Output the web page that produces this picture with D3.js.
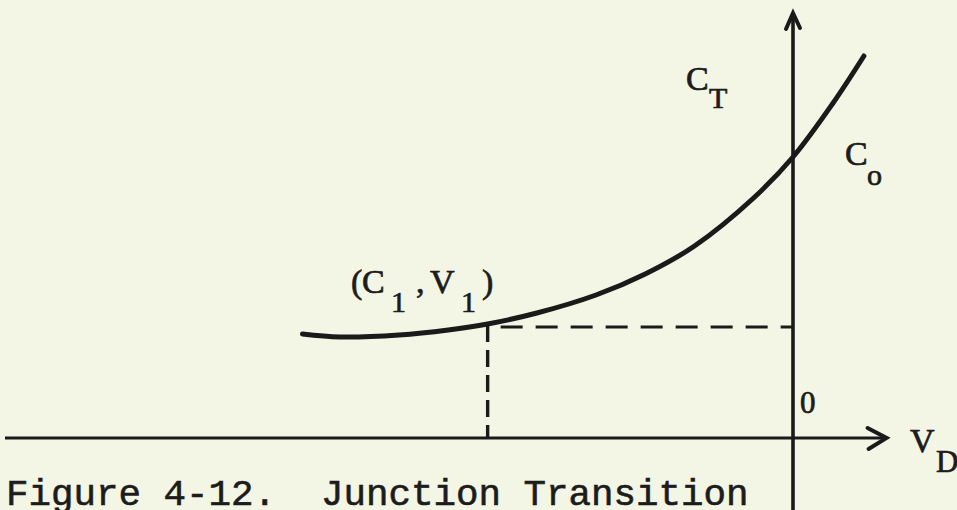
<!DOCTYPE html>
<html>
<head>
<meta charset="utf-8">
<script src="https://cdn.jsdelivr.net/npm/d3@7"></script>
<style>
  html, body { margin: 0; padding: 0; background: #f3f5e5; }
  svg { display: block; }
  text { fill: #1c1c1c; }
  .lbl { font-family: "Liberation Serif", "DejaVu Serif", serif; stroke: #1c1c1c; stroke-width: 0.7; }
  .cap { font-family: "Liberation Mono", "DejaVu Sans Mono", monospace; white-space: pre; stroke: #1c1c1c; stroke-width: 0.6; }
</style>
</head>
<body>
<script>
// Junction transition capacitance C_T versus diode voltage V_D
const volts = [-4.98, -4.6, -4.0, -3.5, -3.1, -2.6, -2.0, -1.5, -1.0, -0.4, 0, 0.4, 0.72];
const caps  = [1.04, 1.01, 1.03, 1.08, 1.14, 1.25, 1.43, 1.64, 1.92, 2.40, 2.81, 3.34, 3.82];
const pointV1 = -3.1;   // V1
const pointC1 = 1.13;   // C1
const axisV = [-8, 0.95];    // extent of the V_D axis
const axisC = [-0.75, 4.25]; // extent of the C_T axis
const caption = "Figure 4-12.  Junction Transition";

const W = 957, H = 510;
const ink = "#1a1a1a";

const x = d3.scaleLinear().domain([-8, 1]).range([5, 891.5]);
const y = d3.scaleLinear().domain([0, 4.25]).range([438, 13]);

const svg = d3.select("body").append("svg")
  .attr("width", W).attr("height", H);

svg.append("rect").attr("width", W).attr("height", H).attr("fill", "#f3f5e5");

// axes
svg.append("line")
  .attr("x1", x(axisV[0])).attr("x2", x(axisV[1]))
  .attr("y1", y(0)).attr("y2", y(0))
  .attr("stroke", ink).attr("stroke-width", 3.2);
svg.append("line")
  .attr("x1", x(0)).attr("x2", x(0))
  .attr("y1", y(axisC[0])).attr("y2", y(axisC[1]))
  .attr("stroke", ink).attr("stroke-width", 3.6);

// arrowheads
const hx = x(axisV[1]), hy = y(0);
svg.append("path")
  .attr("d", `M${hx - 19},${hy - 10} L${hx},${hy} L${hx - 18},${hy + 11}`)
  .attr("fill", "none").attr("stroke", ink).attr("stroke-width", 4)
  .attr("stroke-linejoin", "miter").attr("stroke-linecap", "round");
const vx = x(0), vy = y(axisC[1]);
svg.append("path")
  .attr("d", `M${vx - 7},${vy + 16} L${vx},${vy} L${vx + 7},${vy + 15}`)
  .attr("fill", "none").attr("stroke", ink).attr("stroke-width", 4)
  .attr("stroke-linejoin", "miter").attr("stroke-linecap", "round");

// dashed guides to (C1, V1)
svg.append("line")
  .attr("x1", x(pointV1)).attr("x2", x(pointV1))
  .attr("y1", y(pointC1)).attr("y2", y(0))
  .attr("stroke", ink).attr("stroke-width", 3.4)
  .attr("stroke-dasharray", "17 8");
svg.append("line")
  .attr("x1", x(pointV1)).attr("x2", x(0))
  .attr("y1", y(pointC1) + 2).attr("y2", y(pointC1) + 2)
  .attr("stroke", ink).attr("stroke-width", 3.2)
  .attr("stroke-dasharray", "22 13").attr("stroke-dashoffset", 22);

// C_T curve
const line = d3.line()
  .x((d, i) => x(volts[i]))
  .y(d => y(d))
  .curve(d3.curveCatmullRom.alpha(0.5));
svg.append("path")
  .attr("d", line(caps))
  .attr("fill", "none").attr("stroke", ink)
  .attr("stroke-width", 5).attr("stroke-linecap", "round");

// labels
function label(parts) {
  const t = svg.append("text").attr("class", "lbl");
  parts.forEach(p => {
    t.append("tspan").attr("x", p.x).attr("y", p.y)
      .attr("font-size", p.s).text(p.t);
  });
}
label([{t: "C", x: 686, y: 90, s: 34}, {t: "T", x: 709, y: 108, s: 30}]);
label([{t: "C", x: 845, y: 165, s: 34}, {t: "o", x: 867, y: 185, s: 30}]);
label([{t: "0", x: 800, y: 413, s: 31}]);
label([{t: "V", x: 910, y: 452, s: 34}, {t: "D", x: 936, y: 472, s: 31}]);
label([
  {t: "(", x: 351, y: 293, s: 34},
  {t: "C", x: 362, y: 293, s: 34},
  {t: "1", x: 391, y: 312, s: 30},
  {t: ",", x: 416, y: 293, s: 34},
  {t: "V", x: 430, y: 293, s: 34},
  {t: "1", x: 461, y: 312, s: 30},
  {t: ")", x: 482, y: 293, s: 34}
]);

// caption
svg.append("text").attr("class", "cap")
  .attr("x", 6).attr("y", 505)
  .attr("font-size", 37.5)
  .text(caption);
</script>
</body>
</html>
